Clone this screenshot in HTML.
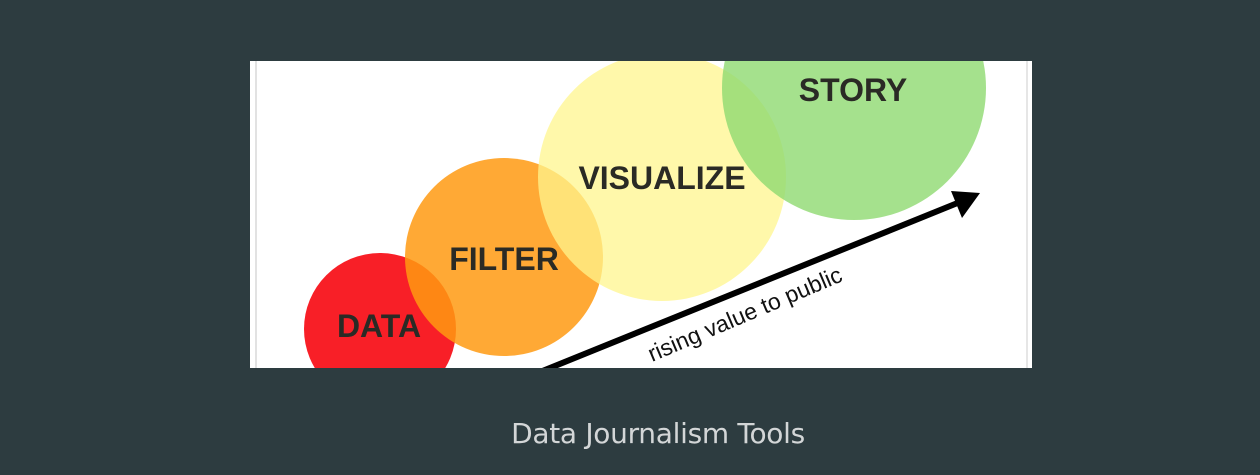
<!DOCTYPE html>
<html><head><style>
html,body{margin:0;padding:0;background:#2d3c40;width:1260px;height:475px;overflow:hidden}
.cap{position:absolute;left:0;width:1316px;top:417px;text-align:center;color:#d3d6d7;font:28px "DejaVu Sans",sans-serif;letter-spacing:-0.3px}
</style></head><body>
<svg width="1260" height="475" style="position:absolute;left:0;top:0">
<defs><clipPath id="c"><rect x="250" y="61" width="782" height="307"/></clipPath></defs>
<rect x="250" y="61" width="782" height="307" fill="#fff"/>
<g clip-path="url(#c)">
<line x1="256" y1="61" x2="256" y2="368" stroke="#e2e2e2" stroke-width="2"/>
<line x1="1027" y1="61" x2="1027" y2="368" stroke="#e6e6e6" stroke-width="2"/>
<circle cx="380" cy="329" r="76" fill="#f8131b" fill-opacity="0.95"/>
<circle cx="504" cy="257" r="99" fill="#ff9a12" fill-opacity="0.85"/>
<circle cx="662" cy="177" r="124" fill="#fff68e" fill-opacity="0.75"/>
<circle cx="854" cy="88" r="132" fill="#8fd970" fill-opacity="0.8"/>
<g font-family="Liberation Sans,sans-serif" font-weight="bold" fill="#2a2a25" font-size="32">
<text x="379" y="337" text-anchor="middle">DATA</text>
<text x="504" y="270" text-anchor="middle">FILTER</text>
<text x="662" y="189" text-anchor="middle">VISUALIZE</text>
<text x="853" y="101" text-anchor="middle">STORY</text>
</g>
<line x1="540" y1="372" x2="960" y2="202" stroke="#000" stroke-width="6"/>
<polygon points="980,193 951,191 962,218" fill="#000"/>
<text x="0" y="0" transform="translate(652,362) rotate(-23)" font-family="Liberation Sans,sans-serif" font-size="23" fill="#111">rising value to public</text>
</g>
</svg>
<div class="cap">Data Journalism Tools</div>
</body></html>
